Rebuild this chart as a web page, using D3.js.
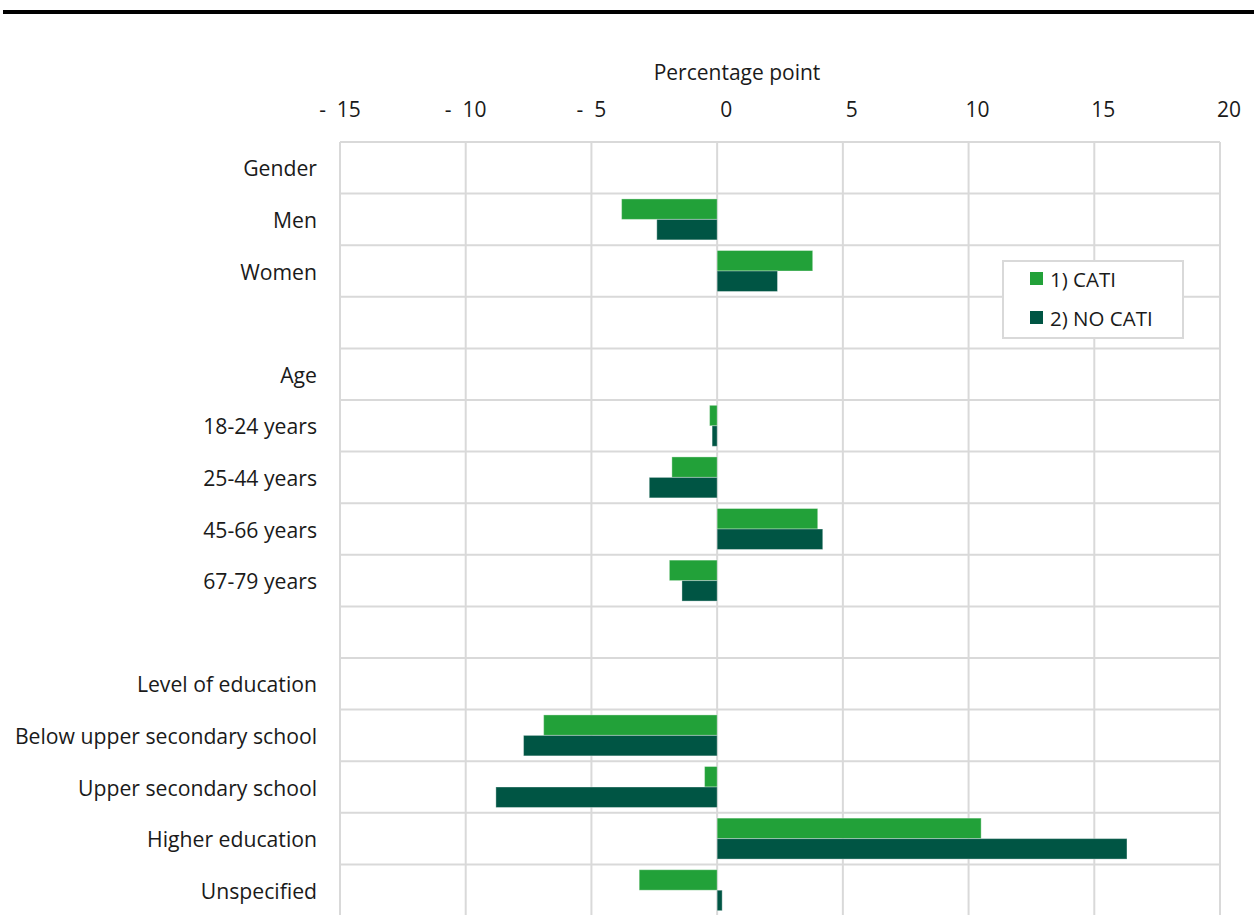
<!DOCTYPE html>
<html>
<head>
<meta charset="utf-8">
<script src="https://cdn.jsdelivr.net/npm/d3@7"></script>
<style>
  html, body { margin: 0; padding: 0; background: #fff; }
  svg { display: block; }
  text { font-family: "Open Sans", "Noto Sans", sans-serif; fill: #1a1a1a; }
</style>
</head>
<body>
<svg id="chart" width="1254" height="915"></svg>
<script>
const categories = [
  "Gender", "Men", "Women", "",
  "Age", "18-24 years", "25-44 years", "45-66 years", "67-79 years", " ",
  "Level of education", "Below upper secondary school", "Upper secondary school", "Higher education", "Unspecified"
];
const seriesNames = ["1) CATI", "2) NO CATI"];
const cati   = [null, -3.8,  3.8, null, null, -0.3, -1.8, 4.0, -1.9, null, null, -6.9, -0.5, 10.5, -3.1];
const noCati = [null, -2.4,  2.4, null, null, -0.2, -2.7, 4.2, -1.4, null, null, -7.7, -8.8, 16.3,  0.2];
const tickValues = [-15, -10, -5, 0, 5, 10, 15, 20];
const colors = ["#22a139", "#005544"];

const svg = d3.select("#chart");

// top rule
svg.append("rect").attr("x", 3).attr("y", 10).attr("width", 1251).attr("height", 4).attr("fill", "#000");

const x = d3.scaleLinear().domain([-15, 20]).range([340, 1220]);
const y = d3.scaleBand().domain(categories.map((c, i) => i)).range([142, 142 + 15 * 51.6]).padding(0);
const y1 = d3.scaleBand().domain([0, 1]).range([0, y.bandwidth()]).paddingInner(0).paddingOuter(0.26);

const grid = svg.append("g");
grid.selectAll("line.v").data(tickValues).join("line")
  .attr("x1", d => x(d)).attr("x2", d => x(d))
  .attr("y1", y.range()[0]).attr("y2", y.range()[1])
  .attr("stroke", "#d9d9d9").attr("stroke-width", 2);
const bounds = d3.range(categories.length + 1).map(i => y.range()[0] + i * y.step());
grid.selectAll("line.h").data(bounds).join("line")
  .attr("x1", x(-15)).attr("x2", x(20))
  .attr("y1", d => d).attr("y2", d => d)
  .attr("stroke", "#d9d9d9").attr("stroke-width", 2);

// bars
const seriesData = [cati, noCati];
seriesData.forEach((vals, s) => {
  svg.append("g").selectAll("rect").data(vals.map((v, i) => ({ v, i })).filter(d => d.v !== null)).join("rect")
    .attr("x", d => x(Math.min(0, d.v)))
    .attr("width", d => Math.abs(x(d.v) - x(0)))
    .attr("y", d => y(d.i) + y1(s))
    .attr("height", y1.bandwidth())
    .attr("fill", colors[s])
    .attr("stroke", "#ffffff").attr("stroke-opacity", 0.35).attr("stroke-width", 1);
});

// category labels
svg.append("g").selectAll("text").data(categories.map((c, i) => ({ c, i }))).join("text")
  .attr("x", 317)
  .attr("y", d => y(d.i) + y.bandwidth() / 2)
  .attr("text-anchor", "end")
  .attr("dominant-baseline", "central")
  .attr("font-size", 21.2)
  .text(d => d.c.trim());

// top axis tick labels (accounting-style)
const fmt = d => d < 0 ? "-  " + Math.abs(d) : String(d);
svg.append("g").selectAll("text").data(tickValues).join("text")
  .attr("x", d => x(d) + (d < 0 ? 0 : 9))
  .attr("y", 109)
  .attr("text-anchor", "middle")
  .attr("dominant-baseline", "central")
  .attr("font-size", 21)
  .style("white-space", "pre")
  .text(fmt);

// axis title
svg.append("text")
  .attr("x", 737).attr("y", 72)
  .attr("text-anchor", "middle").attr("dominant-baseline", "central")
  .attr("font-size", 21)
  .text("Percentage point");

// legend
const lg = svg.append("g");
lg.append("rect").attr("x", 1003).attr("y", 261).attr("width", 180).attr("height", 77)
  .attr("fill", "#fff").attr("stroke", "#d9d9d9").attr("stroke-width", 2);
seriesNames.forEach((n, i) => {
  const cy = 279 + i * 39;
  lg.append("rect").attr("x", 1030).attr("y", cy - 7).attr("width", 13).attr("height", 13).attr("fill", colors[i]);
  lg.append("text").attr("x", 1050).attr("y", cy).attr("dominant-baseline", "central")
    .attr("font-size", 20.5).text(n);
});
</script>
</body>
</html>
